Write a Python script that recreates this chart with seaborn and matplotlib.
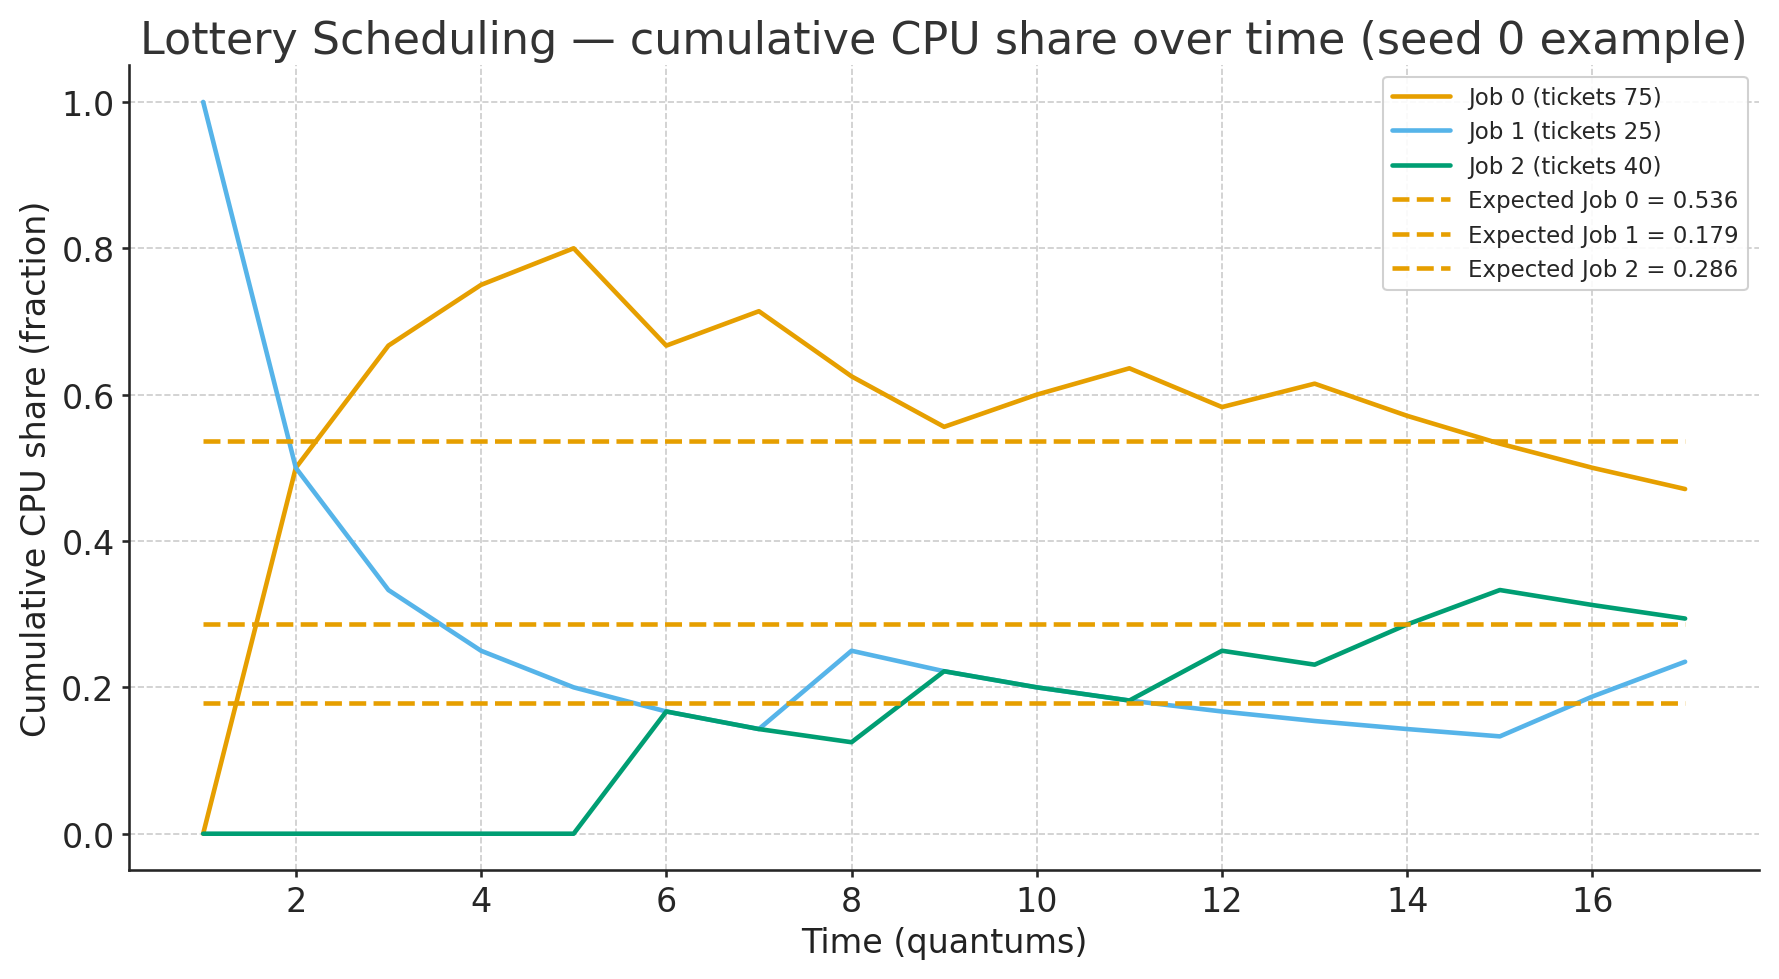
import numpy as np
import pandas as pd
import matplotlib
matplotlib.use('Agg')
import matplotlib.pyplot as plt
import seaborn as sns

time = list(range(1, 18))
job0_share = [0.0, 0.5, 0.667, 0.75, 0.8, 0.667, 0.714, 0.625, 0.556, 0.6,
              0.636, 0.583, 0.615, 0.571, 0.533, 0.5, 0.471]
job1_share = [1.0, 0.5, 0.333, 0.25, 0.2, 0.167, 0.143, 0.25, 0.222, 0.2,
              0.182, 0.167, 0.154, 0.143, 0.133, 0.1875, 0.235]
job2_share = [0.0, 0.0, 0.0, 0.0, 0.0, 0.167, 0.143, 0.125, 0.222, 0.2,
              0.182, 0.25, 0.231, 0.286, 0.333, 0.3125, 0.294]
tickets = [75, 25, 40]
expected = [0.536, 0.179, 0.286]
colors = ['#E69F00', '#56B4E9', '#009E73']

df = pd.DataFrame({'t': time, 'j0': job0_share, 'j1': job1_share, 'j2': job2_share})

sns.set_style('ticks')
plt.rcParams['font.family'] = ['DejaVu Sans']

fig, ax = plt.subplots(figsize=(11.86, 6.533), dpi=150)
for i, col in enumerate(['j0', 'j1', 'j2']):
    sns.lineplot(data=df, x='t', y=col, ax=ax, color=colors[i], linewidth=2.2,
                 label=f'Job {i} (tickets {tickets[i]})')
for i, e in enumerate(expected):
    ax.hlines(e, time[0], time[-1], colors='#E69F00', linestyles='--', linewidth=2.2,
              label=f'Expected Job {i} = {e:.3f}')

ax.set_title('Lottery Scheduling — cumulative CPU share over time (seed 0 example)',
             fontsize=21.3, color='#333333')
ax.set_xlabel('Time (quantums)', fontsize=16, color='#222222')
ax.set_ylabel('Cumulative CPU share (fraction)', fontsize=16, color='#222222')
ax.tick_params(labelsize=16, width=1.25, length=3.5)
ax.grid(True, linestyle='--', color='#cccccc', linewidth=0.8)
ax.set_xticks([2, 4, 6, 8, 10, 12, 14, 16])
ax.set_yticks([0.0, 0.2, 0.4, 0.6, 0.8, 1.0])
sns.despine(ax=ax)
for s in ['left', 'bottom']:
    ax.spines[s].set_linewidth(1.25)
ax.legend(loc='upper right', fontsize=11, framealpha=0.9, edgecolor='#cccccc',
          handlelength=2.5)
plt.tight_layout(pad=0.95)
plt.savefig('out.png', dpi=150)
